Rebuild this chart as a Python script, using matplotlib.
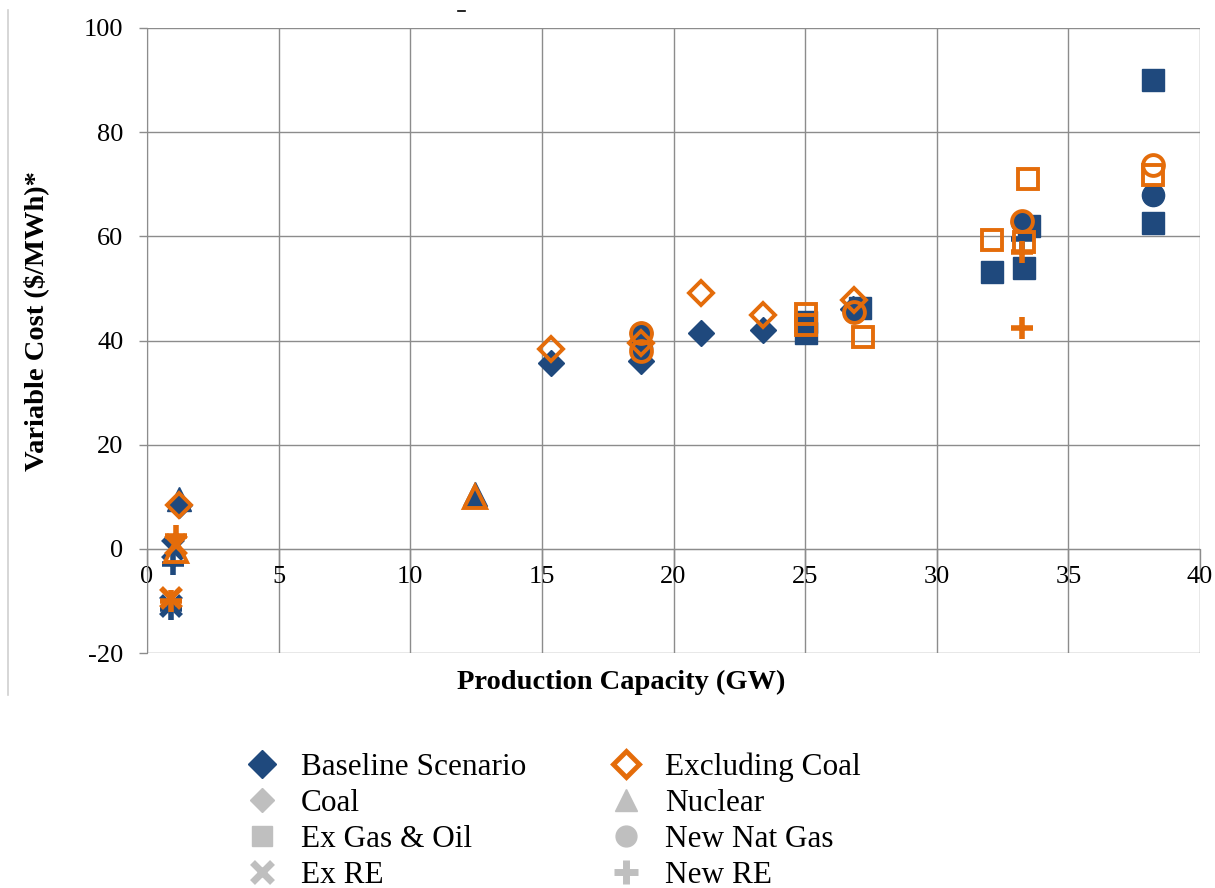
import matplotlib
matplotlib.use("Agg")
import matplotlib.pyplot as plt
from matplotlib.lines import Line2D

plt.rcParams['font.family'] = ['Liberation Serif', 'DejaVu Serif']
plt.rcParams['axes.unicode_minus'] = False

BLUE = "#1F497D"
ORANGE = "#E46C0A"
GREY = "#BFBFBF"
GRID = "#8C8C8C"

# ---- data: baseline scenario (filled blue) ----
base_coal_x = [1.2, 15.35, 18.75, 21.05, 23.4, 26.8]
base_coal_y = [8.4, 35.7, 36.0, 41.5, 42.0, 46.0]
base_nuc_x = [1.2, 12.45]
base_nuc_y = [9.5, 10.5]
base_exgas_x = [25.05, 25.05, 27.1, 32.1, 33.3, 33.5, 38.2, 38.2]
base_exgas_y = [43.5, 41.5, 46.2, 53.2, 53.9, 62.0, 62.6, 90.0]
base_newgas_x = [18.75, 18.75, 26.85, 33.25, 38.2]
base_newgas_y = [41.5, 38.5, 45.5, 62.8, 68.0]
base_exre_x = [1.0, 0.9]
base_exre_y = [0.0, -11.0]
base_newre_x = [1.0, 0.9, 33.25]
base_newre_y = [-3.0, -11.5, 59.5]

# ---- data: excluding coal (hollow orange) ----
exc_coal_x = [1.2, 15.35, 18.75, 21.05, 23.4, 26.85]
exc_coal_y = [8.4, 38.4, 39.5, 49.2, 44.9, 47.8]
exc_nuc_x = [1.1, 12.45]
exc_nuc_y = [-0.5, 10.0]
exc_exgas_x = [25.05, 25.05, 27.2, 32.1, 33.3, 33.45, 38.2]
exc_exgas_y = [45.0, 43.0, 40.7, 59.3, 59.0, 71.0, 71.8]
exc_newgas_x = [18.75, 18.75, 26.85, 33.25, 38.2]
exc_newgas_y = [41.5, 38.0, 45.5, 62.9, 73.7]
exc_exre_x = [1.1, 0.9]
exc_exre_y = [0.8, -9.5]
exc_newre_x = [1.1, 0.9, 33.25, 33.25]
exc_newre_y = [2.5, -10.0, 57.0, 42.4]

tech_labels = ["Coal", "Nuclear", "Ex Gas & Oil", "New Nat Gas", "Ex RE", "New RE"]
tech_markers = ["D", "^", "s", "o", "x", "+"]
tech_sizes = [13, 17, 16, 16, 14, 16]

base_series = [(base_coal_x, base_coal_y), (base_nuc_x, base_nuc_y),
               (base_exgas_x, base_exgas_y), (base_newgas_x, base_newgas_y),
               (base_exre_x, base_exre_y), (base_newre_x, base_newre_y)]
exc_series = [(exc_coal_x, exc_coal_y), (exc_nuc_x, exc_nuc_y),
              (exc_exgas_x, exc_exgas_y), (exc_newgas_x, exc_newgas_y),
              (exc_exre_x, exc_exre_y), (exc_newre_x, exc_newre_y)]

fig = plt.figure(figsize=(12.15, 8.88), dpi=100)
ax = fig.add_axes([0.121, 0.2646, 0.8667, 0.7039])

for (x, y), m, s in zip(base_series, tech_markers, tech_sizes):
    if m in ("x", "+"):
        ax.plot(x, y, ls="none", marker=m, ms=s, mew=4, color=BLUE, zorder=3)
    else:
        ax.plot(x, y, ls="none", marker=m, ms=s, color=BLUE, mec=BLUE, zorder=3)

for (x, y), m, s in zip(exc_series, tech_markers, tech_sizes):
    if m in ("x", "+"):
        ax.plot(x, y, ls="none", marker=m, ms=s, mew=4, color=ORANGE, zorder=4)
    else:
        ax.plot(x, y, ls="none", marker=m, ms=s - 1, mfc="none", mec=ORANGE,
                mew=2.8, zorder=4)

ax.set_xlim(0, 40)
ax.set_ylim(-20, 100)
ax.set_xticks(range(0, 41, 5))
ax.set_yticks(range(-20, 101, 20))
ax.grid(True, color=GRID, lw=1)
ax.set_axisbelow(True)

for side in ("top", "right"):
    ax.spines[side].set_visible(False)
ax.spines["bottom"].set_position(("data", 0))
ax.spines["bottom"].set_color(GRID)
ax.spines["left"].set_color(GRID)

ax.tick_params(axis="x", direction="out", length=16, width=1, color=GRID,
               pad=-4, labelsize=19)
ax.tick_params(axis="y", direction="out", length=6, width=1, color=GRID,
               pad=11, labelsize=19)

ax.set_xlabel("Production Capacity (GW)", fontsize=20.5, fontweight="bold")
ax.xaxis.set_label_coords(0.45, -0.027)
ax.set_ylabel("Variable Cost ($/MWh)*", fontsize=20.5, fontweight="bold")
ax.yaxis.set_label_coords(-0.093, 0.531)

# legend: scenario colours plus grey technology shapes
handles = [Line2D([], [], ls="none", marker="D", ms=14, color=BLUE),
           Line2D([], [], ls="none", marker="D", ms=13, mfc="white", mec=ORANGE, mew=3.5)]
labels = ["Baseline Scenario", "Excluding Coal"]
for lab, m, s in zip(tech_labels, tech_markers, tech_sizes):
    if m in ("x", "+"):
        handles.append(Line2D([], [], ls="none", marker=m, ms=s + 1, mew=5, color=GREY))
    else:
        handles.append(Line2D([], [], ls="none", marker=m, ms=s - 1, color=GREY))
    labels.append(lab)

# reorder so columns read as in the original
order = [0, 2, 4, 6, 1, 3, 5, 7]
fig.legend([handles[i] for i in order], [labels[i] for i in order],
           ncol=2, loc="upper left", bbox_to_anchor=(0.1926, 0.1667),
           frameon=False, fontsize=22.5, handlelength=1.0, handletextpad=0.74,
           columnspacing=2.7, labelspacing=0.225, borderaxespad=0)

# thin page edge on the left and small mark at the top
fig.add_artist(Line2D([0.0066, 0.0066], [0.217, 0.989], color="#D0D0D0", lw=1.2))
fig.add_artist(Line2D([0.377, 0.383], [0.988, 0.988], color="black", lw=1.2))

fig.savefig("out.png", dpi=100)
